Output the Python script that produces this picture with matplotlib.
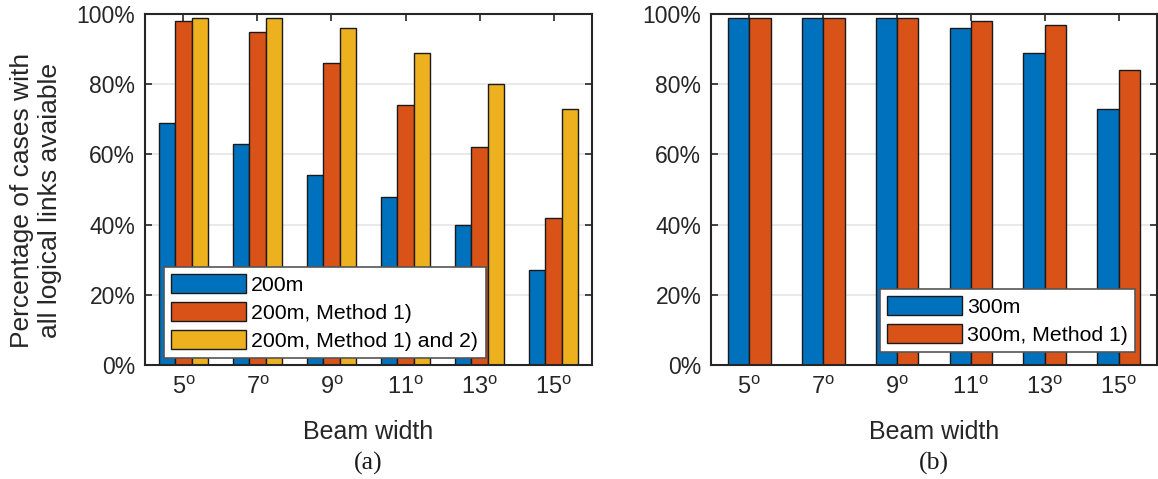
import matplotlib
matplotlib.use("Agg")

import matplotlib.pyplot as plt
import numpy as np

plt.rcParams["font.family"] = ["Liberation Sans", "DejaVu Sans"]
plt.rcParams["mathtext.fontset"] = "custom"
plt.rcParams["mathtext.rm"] = "Liberation Sans"

# Data
beam_widths = ["5", "7", "9", "11", "13", "15"]
tick_labels = [f"{b}$^{{\\mathrm{{o}}}}$" for b in beam_widths]

r200 = [69, 63, 54, 48, 40, 27]
r200_m1 = [98, 95, 86, 74, 62, 42]
r200_m12 = [99, 99, 96, 89, 80, 73]

r300 = [99, 99, 99, 96, 89, 73]
r300_m1 = [99, 99, 99, 98, 97, 84]

BLUE = "#0072BD"
ORANGE = "#D95319"
YELLOW = "#EDB120"
AXCOL = "#262626"

fig = plt.figure(figsize=(11.58, 4.79), dpi=100)
ax1 = fig.add_axes([145 / 1158, 1 - 365 / 479, 447 / 1158, 351 / 479])
ax2 = fig.add_axes([711 / 1158, 1 - 365 / 479, 446 / 1158, 351 / 479])

x = np.arange(1, len(beam_widths) + 1)


def style_axis(ax):
    ax.set_xlim(0.48, 6.52)
    ax.set_ylim(0, 100)
    ax.set_xticks(x)
    ax.set_xticklabels(tick_labels, fontsize=17)
    ax.set_yticks(np.arange(0, 101, 20))
    ax.set_yticklabels([f"{v}%" for v in range(0, 101, 20)], fontsize=16.5)
    ax.tick_params(direction="in", length=5, width=1.2, color=AXCOL,
                   top=True, right=True, labelcolor=AXCOL)
    ax.tick_params(axis="y", pad=7)
    ax.tick_params(axis="x", pad=8)
    ax.grid(True, axis="y", color="#e3e3e3", linewidth=1.1)
    ax.set_axisbelow(True)
    for s in ax.spines.values():
        s.set_color(AXCOL)
        s.set_linewidth(1.5)
    ax.set_xlabel("Beam width", fontsize=18, color=AXCOL, labelpad=15)


# (a) 200 m
w1 = 0.225
ax1.bar(x - w1, r200, w1, color=BLUE, edgecolor="#1a1a1a", linewidth=1.0, label="200m")
ax1.bar(x, r200_m1, w1, color=ORANGE, edgecolor="#1a1a1a", linewidth=1.0, label="200m, Method 1)")
ax1.bar(x + w1, r200_m12, w1, color=YELLOW, edgecolor="#1a1a1a", linewidth=1.0, label="200m, Method 1) and 2)")
style_axis(ax1)
ax1.set_ylabel("Percentage of cases with\nall logical links avaiable", fontsize=19, color=AXCOL,
               linespacing=1.22)
ax1.yaxis.set_label_coords(-0.185, 0.47)
leg1 = ax1.legend(loc="lower left", bbox_to_anchor=(0.0425, 0.02), borderaxespad=0,
                  fontsize=15.3, fancybox=False, edgecolor="#555555", framealpha=1,
                  handlelength=3.5, handleheight=1.0, handletextpad=0.25,
                  labelspacing=0.33, borderpad=0.35)
leg1.get_frame().set_linewidth(1.2)

# (b) 300 m
w2 = 0.29
ax2.bar(x - w2 / 2, r300, w2, color=BLUE, edgecolor="#1a1a1a", linewidth=1.0, label="300m")
ax2.bar(x + w2 / 2, r300_m1, w2, color=ORANGE, edgecolor="#1a1a1a", linewidth=1.0, label="300m, Method 1)")
style_axis(ax2)
leg2 = ax2.legend(loc="lower left", bbox_to_anchor=(0.379, 0.037), borderaxespad=0,
                  fontsize=15.3, fancybox=False, edgecolor="#555555", framealpha=1,
                  handlelength=3.5, handleheight=1.0, handletextpad=0.25,
                  labelspacing=0.33, borderpad=0.35)
leg2.get_frame().set_linewidth(1.2)

fig.text(368 / 1158, 1 - 463 / 479, "(a)", fontsize=18.5, family=["Liberation Serif"],
         ha="center", va="center", color="#1a1a1a")
fig.text(934 / 1158, 1 - 463 / 479, "(b)", fontsize=18.5, family=["Liberation Serif"],
         ha="center", va="center", color="#1a1a1a")

fig.savefig("out.png", dpi=100)
